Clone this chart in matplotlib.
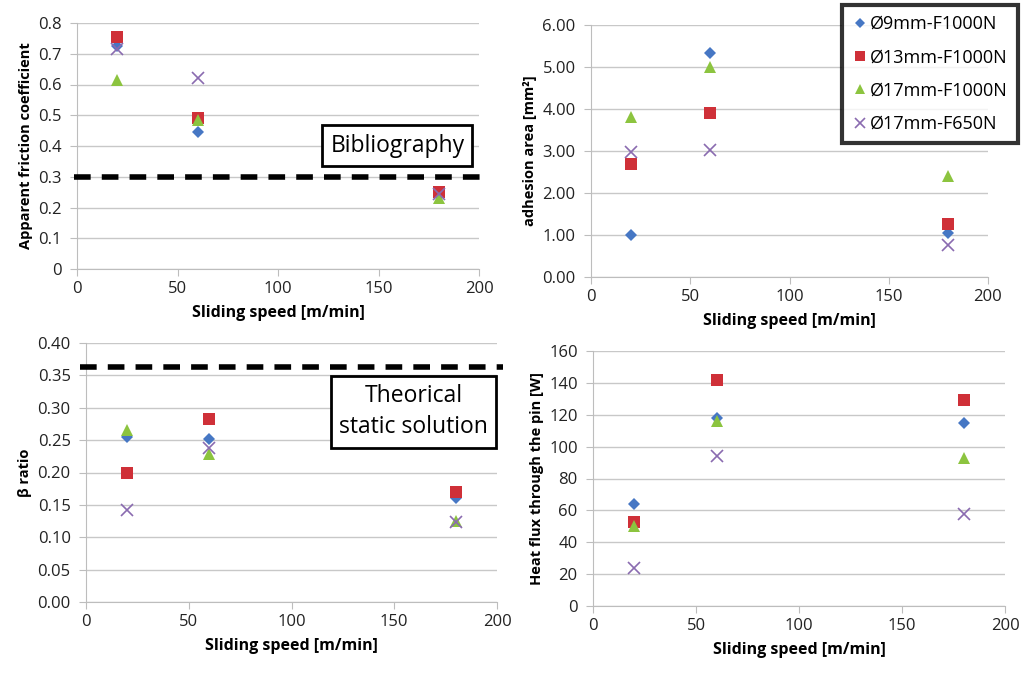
import matplotlib
matplotlib.use("Agg")
import matplotlib.pyplot as plt

plt.rcParams['font.family'] = ['Open Sans', 'DejaVu Sans']

speed = [20, 60, 180]
labels = ["Ø9mm-F1000N", "Ø13mm-F1000N", "Ø17mm-F1000N", "Ø17mm-F650N"]

friction = [
    [0.725, 0.445, 0.245],
    [0.755, 0.49, 0.25],
    [0.615, 0.485, 0.23],
    [0.715, 0.62, 0.245],
]
adhesion = [
    [1.00, 5.33, 1.05],
    [2.70, 3.90, 1.27],
    [3.80, 5.00, 2.40],
    [2.98, 3.02, 0.77],
]
beta = [
    [0.255, 0.252, 0.160],
    [0.200, 0.282, 0.170],
    [0.265, 0.228, 0.125],
    [0.142, 0.238, 0.124],
]
heat = [
    [64, 118, 115],
    [53, 142, 129],
    [50, 116, 93],
    [24, 94, 58],
]
friction_ref = 0.3
beta_ref = 0.363

colors = ["#4677C4", "#CF3038", "#8CC43F", "#8A6BB0"]
markers = ["D", "s", "^", "x"]
msizes = [6, 9, 9, 9]

W, H = 1030, 673
fig = plt.figure(figsize=(W / 100, H / 100), dpi=100)


def px_axes(l, r, t, b):
    return fig.add_axes([l / W, 1 - b / H, (r - l) / W, (b - t) / H])


def style(ax, ymax, ystep, fmt, ylabel):
    ax.set_xlim(0, 200)
    ax.set_ylim(0, ymax)
    ax.set_xticks(range(0, 201, 50))
    n = int(round(ymax / ystep))
    ax.set_yticks([i * ystep for i in range(n + 1)])
    ax.set_yticklabels([fmt.format(i * ystep) for i in range(n + 1)])
    ax.grid(axis='y', color='#c8c8c8', linewidth=1)
    ax.set_axisbelow(True)
    for s in ['top', 'right']:
        ax.spines[s].set_visible(False)
    for s in ['left', 'bottom']:
        ax.spines[s].set_color('#bdbdbd')
    ax.tick_params(axis='both', colors='#bdbdbd', labelcolor='#222222',
                   labelsize=12, length=5, direction='out')
    ax.tick_params(axis='y', pad=6)
    ax.set_xlabel("Sliding speed [m/min]", fontsize=11.5, fontweight='bold', labelpad=6)
    ax.set_ylabel(ylabel, fontsize=10.5, fontweight='bold', labelpad=4)


def scatter(ax, data):
    handles = []
    for vals, c, m, ms, lab in zip(data, colors, markers, msizes, labels):
        h, = ax.plot(speed, vals, linestyle='none', marker=m, color=c,
                     markersize=ms, markeredgewidth=1.2 if m == 'x' else 0,
                     label=lab, clip_on=False, zorder=3)
        handles.append(h)
    return handles


ax1 = px_axes(77, 479, 23, 269)
style(ax1, 0.8, 0.1, "{:g}", "Apparent friction coefficient")
scatter(ax1, friction)
ax1.plot([-1.5, 203.5], [friction_ref, friction_ref], color='black', linewidth=4,
         dashes=(3, 2), clip_on=False, zorder=4)
ax1.text(0.797, 0.502, "Bibliography", transform=ax1.transAxes, ha='center', va='center',
         fontsize=16.5, bbox=dict(boxstyle='square,pad=0.35', fc='white', ec='black', lw=2))

ax2 = px_axes(591, 988, 25, 277)
style(ax2, 6.0, 1.0, "{:.2f}", "adhesion area [mm²]")
handles = scatter(ax2, adhesion)

ax3 = px_axes(86, 497, 343, 602)
style(ax3, 0.40, 0.05, "{:.2f}", "β ratio")
scatter(ax3, beta)
ax3.plot([-2.9, 203], [beta_ref, beta_ref], color='black', linewidth=4,
         dashes=(3, 2), clip_on=False, zorder=4)
ax3.text(0.797, 0.734, "Theorical\nstatic solution", transform=ax3.transAxes, ha='center',
         va='center', fontsize=16.5, linespacing=1.4,
         bbox=dict(boxstyle='square,pad=0.35', fc='white', ec='black', lw=2))

ax4 = px_axes(593, 1005, 351, 606)
style(ax4, 160, 20, "{:g}", "Heat flux through the pin [W]")
scatter(ax4, heat)

leg = fig.legend(handles=handles, loc='upper right', bbox_to_anchor=(1018 / W, 1 - 5 / H),
                 borderaxespad=0, fontsize=13, frameon=True, fancybox=False,
                 handletextpad=0.1, handlelength=0.9, labelspacing=0.85, borderpad=0.55,
                 markerscale=0.8)
leg.get_frame().set_edgecolor('black')
leg.get_frame().set_linewidth(3)

fig.savefig("out.png", dpi=100)
